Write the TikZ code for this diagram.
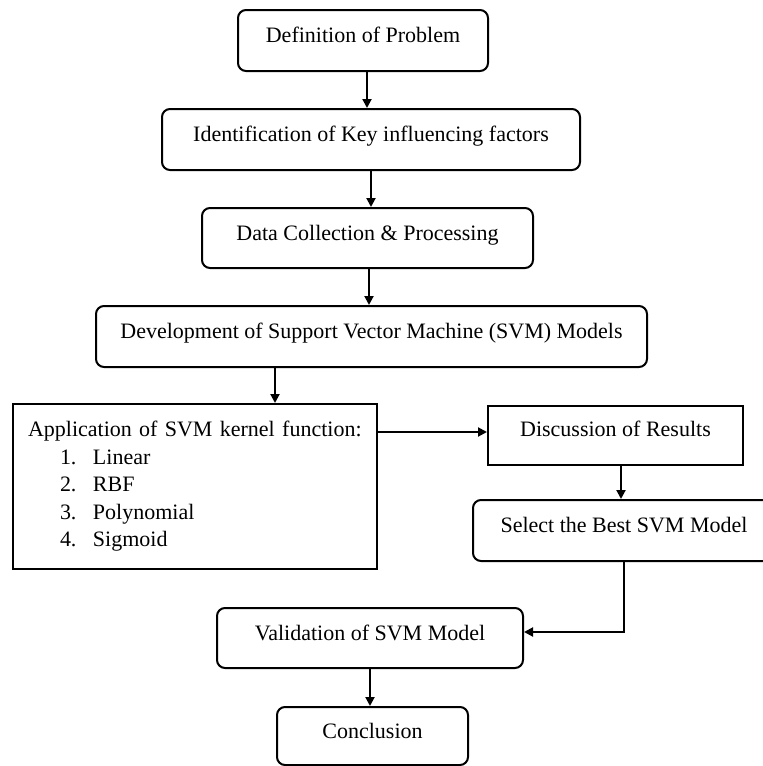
\documentclass[tikz,border=0pt]{standalone}
\usepackage{fontspec}
\setmainfont{Liberation Serif}
\usepackage{tikz}
\usetikzlibrary{positioning,arrows.meta}

\begin{document}
\begin{tikzpicture}[node distance=18pt,
  font=\fontsize{11}{13.75}\selectfont,
  >={Triangle[length=4.5pt,width=4.5pt]},
  stepbox/.style={rectangle,draw,line width=1pt,rounded corners=4pt,inner sep=0pt,
    text height=8pt,text depth=6pt,minimum height=30.5pt},
  flatbox/.style={rectangle,draw,line width=1pt,inner sep=0pt,
    text height=8pt,text depth=7.5pt,minimum height=29.5pt},
  listbox/.style={rectangle,draw,line width=1pt,inner sep=7.5pt,align=left,
    text width=167pt,minimum height=82.5pt}]
\useasboundingbox (0,0) rectangle (381pt,-383pt);

% Problem Layer
\node[stepbox,minimum width=125pt] (problem) at (181.5pt,-20.25pt) {Definition of Problem};
\node[stepbox,minimum width=209pt,below=of problem,xshift=4pt] (factors) {Identification of Key influencing factors};
\node[stepbox,minimum width=165.5pt,minimum height=30pt,below=of factors,xshift=-1.75pt] (data) {Data Collection \& Processing};

% Model Layer
\node[stepbox,minimum width=275.5pt,below=of data,xshift=2pt] (development) {Development of Support Vector Machine (SVM) Models};
\node[listbox,below=17.5pt of development,xshift=-88.25pt] (kernel) {Application of SVM kernel function:\\
  \hspace*{16pt}\makebox[16.5pt][l]{1.}Linear\\
  \hspace*{16pt}\makebox[16.5pt][l]{2.}RBF\\
  \hspace*{16pt}\makebox[16.5pt][l]{3.}Polynomial\\
  \hspace*{16pt}\makebox[16.5pt][l]{4.}Sigmoid};

% Result Layer
\node[flatbox,minimum width=127.5pt,right=54.5pt of kernel.north east,anchor=north west,yshift=-1pt] (results) {Discussion of Results};
\node[stepbox,minimum width=151pt,below=16.5pt of results,xshift=4.25pt] (best) {Select the Best SVM Model};
\node[stepbox,minimum width=153pt,minimum height=30pt,below=18.5pt of kernel,xshift=87.5pt] (validation) {Validation of SVM Model};
\node[stepbox,minimum width=95.5pt,minimum height=29pt,below=18.5pt of validation,xshift=1.25pt] (conclusion) {Conclusion};

% Arrows
\coordinate (resin) at ([yshift=1.75pt]results.west);
\draw[->,line width=1pt] ([xshift=2pt]problem.south) -- ([xshift=2pt]problem.south |- factors.north);
\draw[->,line width=1pt] (factors.south) -- (factors.south |- data.north);
\draw[->,line width=1pt] ([xshift=0.75pt]data.south) -- ([xshift=0.75pt]data.south |- development.north);
\draw[->,line width=1pt] ([xshift=-48.25pt]development.south) -- ([xshift=-48.25pt]development.south |- kernel.north);
\draw[->,line width=1pt] (kernel.east |- resin) -- (resin);
\draw[->,line width=1pt] ([xshift=2.75pt]results.south) -- ([xshift=2.75pt]results.south |- best.north);
\draw[->,line width=1pt] (best.south) |- ([yshift=3pt]validation.east);
\draw[->,line width=1pt] (validation.south) -- (validation.south |- conclusion.north);
\end{tikzpicture}
\end{document}
